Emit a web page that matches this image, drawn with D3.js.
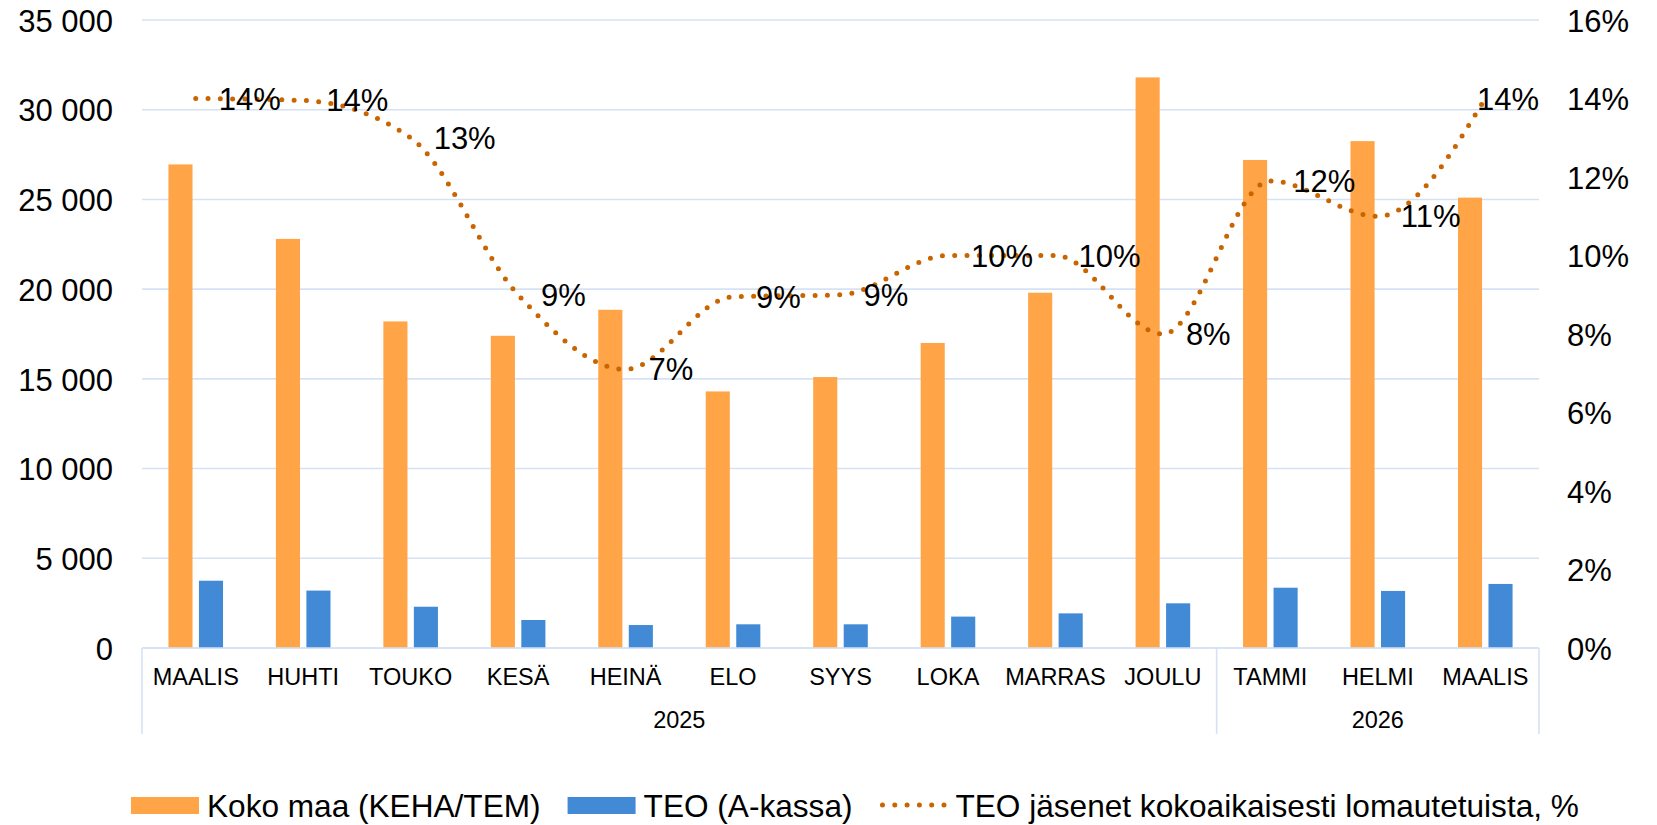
<!DOCTYPE html>
<html>
<head>
<meta charset="utf-8">
<script src="https://cdn.jsdelivr.net/npm/d3@7"></script>
<style>
	html, body { margin: 0; padding: 0; background: #fff; }
	svg text { font-family: "Liberation Sans", Arial, sans-serif; fill: #000; }
</style>
</head>
<body>
<svg id="chart" width="1657" height="825"></svg>
<script>
/*global d3 */
// chart values
var months = ['MAALIS', 'HUHTI', 'TOUKO', 'KESÄ', 'HEINÄ', 'ELO', 'SYYS', 'LOKA', 'MARRAS', 'JOULU', 'TAMMI', 'HELMI', 'MAALIS'];
var years = ['2025', '2026'];
var yearMonthCounts = [10, 3];
var seriesNames = ['Koko maa (KEHA/TEM)', 'TEO (A-kassa)', 'TEO jäsenet kokoaikaisesti lomautetuista, %'];
var kokoMaa = [26950, 22800, 18200, 17400, 18850, 14300, 15100, 17000, 19800, 31800, 27200, 28250, 25100];
var teoKassa = [3750, 3200, 2300, 1560, 1280, 1320, 1320, 1750, 1930, 2490, 3360, 3180, 3570];
var teoOsuus = [14.0, 13.95, 13.0, 9.0, 7.1, 8.95, 9.0, 10.0, 10.0, 8.0, 11.9, 11.0, 14.0];
var leftTicks = [0, 5000, 10000, 15000, 20000, 25000, 30000, 35000];
var rightTicks = [0, 2, 4, 6, 8, 10, 12, 14, 16];

(function () {
	'use strict';
	var svg = d3.select('#chart'),
		colors = ['#FFA548', '#428AD6', '#C96500'],
		left = 142, right = 1539, top = 20, bottom = 648,
		idx = d3.range(months.length),
		fi = d3.formatLocale({ decimal: ',', thousands: ' ', grouping: [3], currency: ['', ''] }),
		fmtNum = fi.format(',d'),
		fmtPct = function (v) { return Math.round(v) + '%'; },
		x, xs, y, y2, g, line, yearStart, legend, lx, t;

	x = d3.scaleBand().domain(idx).range([left, right]).paddingInner(0).paddingOuter(0);
	xs = d3.scaleBand().domain([0, 1]).paddingInner(0.21);
	xs.range([x.bandwidth() / 2 - 27.3, x.bandwidth() / 2 + 27.3]);
	y = d3.scaleLinear().domain([0, 35000]).range([bottom, top]);
	y2 = d3.scaleLinear().domain([0, 16]).range([bottom, top]);

	// gridlines
	svg.append('g').selectAll('line').data(leftTicks).enter().append('line')
		.attr('x1', left).attr('x2', right)
		.attr('y1', function (d) { return y(d); })
		.attr('y2', function (d) { return y(d); })
		.attr('stroke', '#D6E2F4').attr('stroke-width', 1.6);

	// left axis
	g = svg.append('g').attr('transform', 'translate(113,0)')
		.call(d3.axisLeft(y).tickValues(leftTicks).tickFormat(fmtNum).tickSize(0).tickPadding(0));
	g.select('.domain').remove();
	g.selectAll('text').attr('font-size', 31).attr('dy', '0.36em')
		.style('font-family', '"Liberation Sans", Arial, sans-serif').attr('fill', '#000');

	// right axis
	g = svg.append('g').attr('transform', 'translate(1567,0)')
		.call(d3.axisRight(y2).tickValues(rightTicks).tickFormat(fmtPct).tickSize(0).tickPadding(0));
	g.select('.domain').remove();
	g.selectAll('text').attr('font-size', 31).attr('dy', '0.36em')
		.style('font-family', '"Liberation Sans", Arial, sans-serif').attr('fill', '#000');

	// bars
	[kokoMaa, teoKassa].forEach(function (vals, s) {
		svg.append('g').selectAll('rect').data(vals).enter().append('rect')
			.attr('x', function (d, i) { return x(i) + xs(s); })
			.attr('width', xs.bandwidth())
			.attr('y', function (d) { return y(d); })
			.attr('height', function (d) { return y(0) - y(d); })
			.attr('fill', colors[s]);
	});

	// category axis: month row, year row and separators
	svg.append('line').attr('x1', left).attr('x2', right).attr('y1', bottom).attr('y2', bottom)
		.attr('stroke', '#D6E2F4').attr('stroke-width', 1.6);
	svg.append('g').selectAll('text').data(months).enter().append('text')
		.attr('x', function (d, i) { return x(i) + x.bandwidth() / 2; })
		.attr('y', 685)
		.attr('text-anchor', 'middle')
		.attr('font-size', 23.5)
		.text(function (d) { return d; });

	yearStart = 0;
	years.forEach(function (yr, k) {
		var x0 = x(yearStart),
			x1 = x(yearStart + yearMonthCounts[k] - 1) + x.bandwidth();
		svg.append('text').attr('x', (x0 + x1) / 2).attr('y', 728)
			.attr('text-anchor', 'middle').attr('font-size', 23.5).text(yr);
		svg.append('line').attr('x1', x0).attr('x2', x0).attr('y1', bottom).attr('y2', 734)
			.attr('stroke', '#D6E2F4').attr('stroke-width', 1.6);
		if (k === years.length - 1) {
			svg.append('line').attr('x1', x1).attr('x2', x1).attr('y1', bottom).attr('y2', 734)
				.attr('stroke', '#D6E2F4').attr('stroke-width', 1.6);
		}
		yearStart += yearMonthCounts[k];
	});

	// dotted smoothed line
	line = d3.line()
		.x(function (d, i) { return x(i) + x.bandwidth() / 2; })
		.y(function (d) { return y2(d); })
		.curve(d3.curveMonotoneX);
	svg.append('path').datum(teoOsuus)
		.attr('d', line)
		.attr('fill', 'none')
		.attr('stroke', colors[2])
		.attr('stroke-width', 5)
		.attr('stroke-linecap', 'round')
		.attr('stroke-dasharray', '0 12.3');

	// data labels, right of the points, kept inside the plot area
	svg.append('g').selectAll('text').data(teoOsuus).enter().append('text')
		.attr('y', function (d) { return y2(d) + 11; })
		.attr('font-size', 31)
		.text(function (d) { return fmtPct(d); })
		.attr('x', function (d, i) {
			var w = this.getComputedTextLength();
			return Math.min(x(i) + x.bandwidth() / 2 + 23, right - w);
		});

	// legend
	legend = svg.append('g');
	lx = 131;
	seriesNames.forEach(function (name, s) {
		if (s < 2) {
			legend.append('rect').attr('x', lx).attr('y', 797).attr('width', 68).attr('height', 17)
				.attr('fill', colors[s]);
		} else {
			legend.append('line').attr('x1', lx + 3).attr('x2', lx + 66).attr('y1', 805).attr('y2', 805)
				.attr('stroke', colors[2]).attr('stroke-width', 5)
				.attr('stroke-linecap', 'round').attr('stroke-dasharray', '0 12.3');
		}
		t = legend.append('text').attr('x', lx + 76).attr('y', 817).attr('font-size', 31.6).text(name);
		lx = lx + 76 + t.node().getComputedTextLength() + 27;
	});
}());
</script>
</body>
</html>
